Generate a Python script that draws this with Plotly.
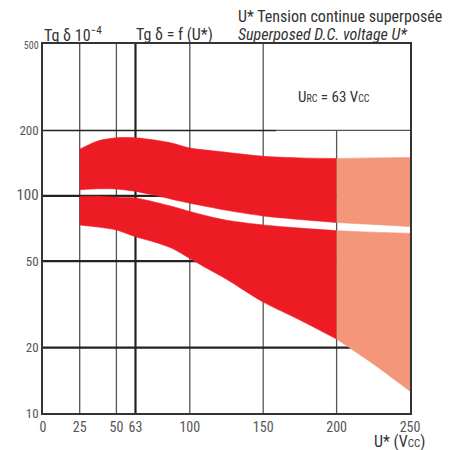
import plotly.graph_objects as go

# ---- data ----
u_vals = [25, 37.5, 50, 63, 75, 87.5, 100, 112.5, 125, 150, 175, 200, 225, 250]
upper_top = [164, 179, 185, 185, 181, 175, 166, 162, 158.5, 152, 149.5, 148.5, 149.5, 150]
upper_bot = [106.6, 107.7, 107.5, 104.8, 101, 96.5, 92.5, 89, 85.7, 80.8, 77.8, 75.3, 73.8, 72.2]
lower_top = [99.4, 99.5, 98.6, 97.8, 94, 89.5, 84.7, 80.5, 77.2, 73.4, 71, 69.1, 68, 67.2]
lower_bot = [73.4, 71.8, 69.6, 64.8, 61.5, 57.5, 51.5, 46, 41.3, 32.4, 26.8, 21.9, 16.8, 12.6]

split_u = 200  # measured up to here (red), extrapolated beyond (salmon)

x_ticks = [0, 25, 50, 63, 100, 150, 200, 250]
y_ticks = [10, 20, 50, 100, 200, 500]

RED = "#ED1C24"
SALMON = "#F4967A"
TXT = "#333333"
FONT = "Liberation Sans Narrow, Roboto Condensed, DejaVu Sans Condensed, Arial Narrow, sans-serif"

fig = go.Figure()

def add_band(xs, lo, hi, color):
    fig.add_trace(go.Scatter(x=xs, y=lo, mode="lines", line=dict(color=color, width=0.6, shape="spline", smoothing=0.8),
                             hoverinfo="skip", showlegend=False))
    fig.add_trace(go.Scatter(x=xs, y=hi, mode="lines", line=dict(color=color, width=0.6, shape="spline", smoothing=0.8),
                             fill="tonexty", fillcolor=color, hoverinfo="skip", showlegend=False))

idx_red = [i for i, u in enumerate(u_vals) if u <= split_u]
idx_sal = [i for i, u in enumerate(u_vals) if u >= split_u]
for idx, col in ((idx_red, RED), (idx_sal, SALMON)):
    xs = [u_vals[i] for i in idx]
    add_band(xs, [upper_bot[i] for i in idx], [upper_top[i] for i in idx], col)
    add_band(xs, [lower_bot[i] for i in idx], [lower_top[i] for i in idx], col)

# ---- grid lines (drawn below the bands) ----
GRAY = "#555555"
DARK = "#222222"
def vline(x, y0, y1, color, w):
    fig.add_shape(type="line", xref="x", yref="y", x0=x, x1=x, y0=y0, y1=y1,
                  line=dict(color=color, width=w), layer="below")
def hline(y, x0, x1, color, w):
    fig.add_shape(type="line", xref="x", yref="y", x0=x0, x1=x1, y0=y, y1=y,
                  line=dict(color=color, width=w), layer="below")

for xv in [25, 50, 100, 150]:
    vline(xv, 10, 500, GRAY, 1.3)
vline(63, 10, 500, DARK, 2.2)
vline(200, 10, 200, GRAY, 1.3)
hline(200, 0, 159, DARK, 1.6)
hline(200, 159, 250, GRAY, 1.2)
for yv in [100, 50, 20]:
    hline(yv, 0, 250, DARK, 2.2)

# ---- tick label styling ----
y_sizes = {500: 10, 200: 13, 100: 15, 50: 13, 20: 13, 10: 13}
y_text = [f"<span style='font-size:{y_sizes[v]}px'>{v}</span>" for v in y_ticks]

fig.update_xaxes(range=[0, 250], tickvals=x_ticks, ticktext=[str(v) for v in x_ticks],
                 showgrid=False, zeroline=False, showline=True, mirror=True,
                 linecolor="#333333", linewidth=1.5, ticks="",
                 tickfont=dict(family=FONT, size=14, color="#555555"))
fig.update_yaxes(type="log", range=[1, 2.69897], tickvals=y_ticks, ticktext=y_text,
                 showgrid=False, zeroline=False, showline=True, mirror=True,
                 linecolor="#333333", linewidth=1.5, ticks="",
                 tickfont=dict(family=FONT, size=13, color="#555555"))

# ---- texts ----
def note(text, x, y, size=16, xanchor="left", italic=False):
    if italic:
        text = f"<i>{text}</i>"
    fig.add_annotation(text=text, xref="paper", yref="paper", x=x, y=y, xanchor=xanchor, yanchor="middle",
                       showarrow=False, font=dict(family=FONT, size=size, color=TXT))

W, H = 462, 450
ML, MR, MT, MB = 43, 52, 44, 37
pw, ph = W - ML - MR, H - MT - MB
def px(xp): return (xp - ML) / pw
def py(yp): return (H - MB - yp) / ph

def small(t, s=11):
    return f"<span style='font-size:{s}px'>{t}</span>"

note("Tg δ 10<sup>−4</sup>", px(42), py(35))
note("Tg δ = f (U*)", px(134), py(35))
note("U* Tension continue superposée", px(236), py(17))
note("Superposed D.C. voltage U*", px(236), py(35), italic=True)
note("U" + small("RC", 10) + " = 63 V" + small("CC", 10), px(296), py(97), size=15)
note("U* (V" + small("CC", 11) + ")", px(372), py(441))

fig.update_layout(width=W, height=H, margin=dict(l=ML, r=MR, t=MT, b=MB),
                  paper_bgcolor="white", plot_bgcolor="white", showlegend=False,
                  font=dict(family=FONT, color=TXT))

fig.write_html("out.html", config={"displayModeBar": False},
               post_script="document.body.style.margin='0';")
